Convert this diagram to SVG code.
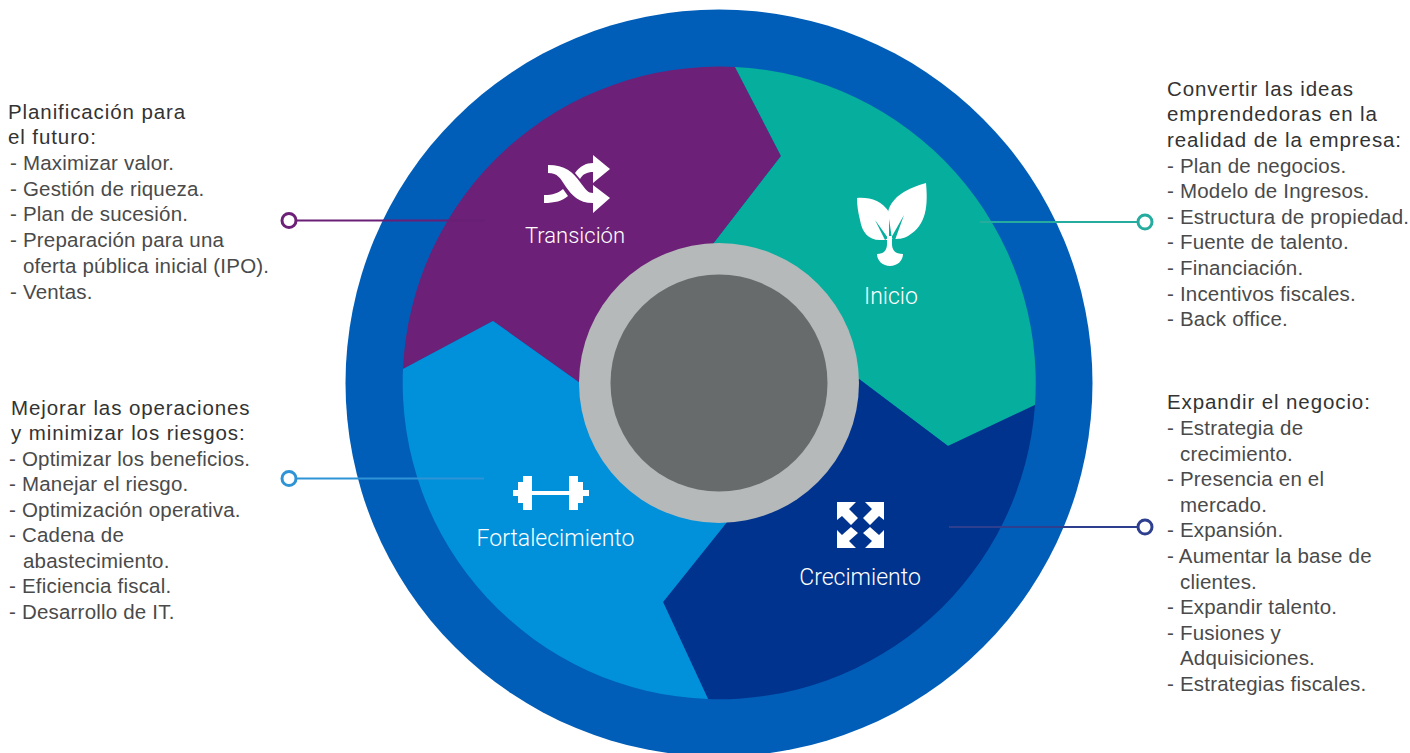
<svg xmlns="http://www.w3.org/2000/svg" width="1410" height="753" viewBox="0 0 1410 753">
<style>
.t{font-family:"Liberation Sans",Arial,sans-serif;font-size:20.500px;letter-spacing:.2px;fill:#4a4a4a}
.h{fill:#333;letter-spacing:.9px}
.l{font-family:Roboto,"Liberation Sans",sans-serif;font-weight:300;font-size:23px;fill:#fff;text-anchor:middle}
.c{fill:#fff;stroke-width:3}
.k{fill:none;stroke-width:2.2}
</style>
<rect width="1410" height="753" fill="#fff"/>
<g id="wheel">
<circle cx="719" cy="383" r="373.5" fill="#005eb8"/>
<path d="M403 369A316.500 316.500 0 0 1 735 67L781 156L713 244L719 383L580 383L493 321Z" fill="#6d2077"/>
<path d="M735 67A316.500 316.500 0 0 1 1035 405L948 446L859 379L719 383L713 244L781 156Z" fill="#06ae9e"/>
<path d="M1035 405A316.500 316.500 0 0 1 708 699L663 602L727 522L719 383L859 379L948 446Z" fill="#00338d"/>
<path d="M708 699A316.500 316.500 0 0 1 403 369L493 321L580 383L719 383L727 522L663 602Z" fill="#0091da"/>
<circle cx="719" cy="383" r="140" fill="#b5b9ba"/>
<circle cx="719" cy="383" r="108.500" fill="#676b6c"/>
</g>
<g id="connectors">
<path class="k" stroke="#691f76" d="M296 220.500H485"/>
<path class="k" stroke="#26ab9f" d="M980 222H1138"/>
<path class="k" stroke="#2f94d6" d="M297 478.500H484"/>
<path class="k" stroke="#2e3f8f" d="M949 527H1138"/>
<circle class="c" stroke="#6d2077" cx="289" cy="220.500" r="7"/>
<circle class="c" stroke="#26ab9f" cx="1145" cy="222" r="7"/>
<circle class="c" stroke="#2f94d6" cx="289" cy="478.500" r="7"/>
<circle class="c" stroke="#2e3f8f" cx="1145" cy="527" r="7"/>
</g>
<g id="transicion">
<path fill="#fff" d="M548 165C565 165 573 172 580 182C586 190 588 193 593 193V185L610 198L593 213V203C578 203 572 195 566 187C560 178 558 173 548 173Z"/>
<path fill="#fff" d="M575 173C580 166 586 163 593 163V155L610 169L593 183V172C587 172 583 174 580 179ZM544 195C553 195 558 193 563 189L568 196C562 201 555 203 544 203Z"/>
<text class="l" style="font-size:22px" x="575" y="243">Transición</text>
</g>
<g id="inicio">
<path fill="#fff" d="M857 198C870 197 882 201 889 212L889 240H880C868 240 862 232 860 220C858 212 857 205 857 198Z"/>
<path fill="#fff" d="M926 183C928 205 927 225 908 236C903 239 898 239 892 239L888 212C892 196 908 188 926 183Z"/>
<path fill="#06ae9e" d="M875 220L888 238L885 240ZM904 215L895 240L891 238Z"/>
<path fill="#fff" d="M887 236H892V244C892 250 895 254 903 254C903 261 897 266 890 266C883 266 877 261 877 254C884 254 887 250 887 244Z"/>
<text class="l" x="891" y="304">Inicio</text>
</g>
<g id="fortalecimiento">
<path fill="#fff" d="M513 490H518V482H523V476H532V491H569V476H578V482H583V490H589V496H583V503H578V510H569V495H532V510H523V503H518V496H513Z"/>
<text class="l" x="555.500" y="546">Fortalecimiento</text>
</g>
<g id="crecimiento">
<path fill="#fff" d="M837 502H856L849 509L858 518L851 525L842 516L837 520Z"/>
<path fill="#fff" d="M884 502H865L872 509L863 518L870 525L879 516L884 520Z"/>
<path fill="#fff" d="M837 548H856L849 541L858 533L851 527L842 535L837 530Z"/>
<path fill="#fff" d="M884 548H865L872 541L863 533L870 527L879 535L884 530Z"/>
<text class="l" x="860" y="585">Crecimiento</text>
</g>
<g id="texto-planificacion" class="t" transform="translate(0 .8)">
<text class="h" x="8" y="118">Planificación para</text>
<text class="h" x="8" y="143">el futuro:</text>
<text x="10" y="169">- Maximizar valor.</text>
<text x="10" y="195">- Gestión de riqueza.</text>
<text x="10" y="220">- Plan de sucesión.</text>
<text x="10" y="246">- Preparación para una</text>
<text x="23" y="272">oferta pública inicial (IPO).</text>
<text x="10" y="298">- Ventas.</text>
</g>
<g id="texto-mejorar" class="t" transform="translate(0 .8)">
<text class="h" x="11" y="414">Mejorar las operaciones</text>
<text class="h" x="11" y="439">y minimizar los riesgos:</text>
<text x="9" y="465">- Optimizar los beneficios.</text>
<text x="9" y="490">- Manejar el riesgo.</text>
<text x="9" y="516">- Optimización operativa.</text>
<text x="9" y="541">- Cadena de</text>
<text x="23" y="567">abastecimiento.</text>
<text x="9" y="592">- Eficiencia fiscal.</text>
<text x="9" y="618">- Desarrollo de IT.</text>
</g>
<g id="texto-convertir" class="t" transform="translate(0 .8)">
<text class="h" x="1167" y="95">Convertir las ideas</text>
<text class="h" x="1167" y="120">emprendedoras en la</text>
<text class="h" x="1167" y="146">realidad de la empresa:</text>
<text x="1167" y="172">- Plan de negocios.</text>
<text x="1167" y="197">- Modelo de Ingresos.</text>
<text x="1167" y="223">- Estructura de propiedad.</text>
<text x="1167" y="248">- Fuente de talento.</text>
<text x="1167" y="274">- Financiación.</text>
<text x="1167" y="300">- Incentivos fiscales.</text>
<text x="1167" y="325">- Back office.</text>
</g>
<g id="texto-expandir" class="t" transform="translate(0 .8)">
<text class="h" x="1167" y="408">Expandir el negocio:</text>
<text x="1167" y="434">- Estrategia de</text>
<text x="1180" y="460">crecimiento.</text>
<text x="1167" y="485">- Presencia en el</text>
<text x="1180" y="511">mercado.</text>
<text x="1167" y="536">- Expansión.</text>
<text x="1167" y="562">- Aumentar la base de</text>
<text x="1180" y="588">clientes.</text>
<text x="1167" y="613">- Expandir talento.</text>
<text x="1167" y="639">- Fusiones y</text>
<text x="1180" y="664">Adquisiciones.</text>
<text x="1167" y="690">- Estrategias fiscales.</text>
</g>
</svg>
